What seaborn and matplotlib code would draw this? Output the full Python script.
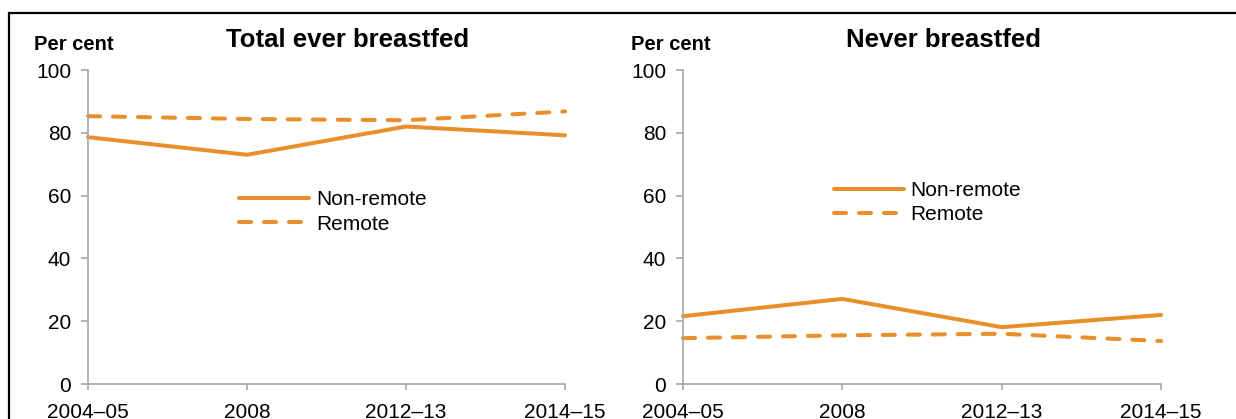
import pandas as pd
import seaborn as sns
import matplotlib.pyplot as plt
from matplotlib.patches import Rectangle

# -----------------------------
# Data
# -----------------------------
periods = ["2004–05", "2008", "2012–13", "2014–15"]
series_names = ["Non-remote", "Remote"]

ever_nonremote = [78.6, 73.0, 82.0, 79.2]
ever_remote = [85.3, 84.4, 84.0, 86.8]

never_nonremote = [21.6, 27.1, 18.1, 22.0]
never_remote = [14.6, 15.5, 16.0, 13.7]

panel_titles = ["Total ever breastfed", "Never breastfed"]
y_ticks = [0, 20, 40, 60, 80, 100]


def long_df(nonremote, remote):
    return pd.DataFrame({
        "Period": periods * 2,
        "Value": nonremote + remote,
        "Remoteness": [series_names[0]] * len(periods) + [series_names[1]] * len(periods),
    })


df_ever = long_df(ever_nonremote, ever_remote)
df_never = long_df(never_nonremote, never_remote)

# -----------------------------
# Plot
# -----------------------------
sns.set_theme(style="white")
plt.rcParams["font.family"] = ["Liberation Sans", "DejaVu Sans"]
plt.rcParams["text.color"] = "black"
plt.rcParams["lines.dash_capstyle"] = "round"
plt.rcParams["lines.solid_capstyle"] = "round"

orange = "#E88F2B"
axis_grey = "#A6A6A6"

fig = plt.figure(figsize=(12.36, 4.19), dpi=100)

# outer frame (runs off the right and bottom edge, as in the source)
fig.patches.append(Rectangle((9 / 1236, -0.2), 1.3, 1 - 13 / 419 + 0.2,
                             transform=fig.transFigure, fill=False,
                             edgecolor="black", linewidth=1.6))

ax1 = fig.add_axes([88 / 1236, 1 - 384 / 419, 477 / 1236, 314 / 419])
ax2 = fig.add_axes([683 / 1236, 1 - 384 / 419, 478 / 1236, 314 / 419])

legend_anchor = [(0.317, 0.548), (0.316, 0.577)]
title_x = [0.2808, 0.763]
percent_x = [34 / 1236, 631 / 1236]

for i, (ax, df) in enumerate([(ax1, df_ever), (ax2, df_never)]):
    sns.lineplot(
        data=df, x="Period", y="Value", style="Remoteness",
        dashes={"Non-remote": "", "Remote": (3.0, 3.2)},
        color=orange, linewidth=2.9, ax=ax,
    )
    for line in ax.get_lines():
        line.set_clip_on(False)

    ax.set_xlim(0, 3)
    ax.set_ylim(0, 100)
    ax.set_yticks(y_ticks)
    ax.set_xlabel("")
    ax.set_ylabel("")

    for side in ["top", "right"]:
        ax.spines[side].set_visible(False)
    for side in ["left", "bottom"]:
        ax.spines[side].set_color(axis_grey)
        ax.spines[side].set_linewidth(1.2)

    ax.tick_params(axis="y", left=True, length=5, width=1.2, color=axis_grey,
                   pad=7, labelsize=15, labelcolor="black")
    ax.tick_params(axis="x", bottom=True, length=4.5, width=1.2, color=axis_grey,
                   pad=9, labelsize=15, labelcolor="black")

    sns.move_legend(
        ax, "center left", bbox_to_anchor=legend_anchor[i], title=None,
        frameon=False, fontsize=15, handlelength=3.35, handletextpad=0.33,
        labelspacing=0.25, borderpad=0, borderaxespad=0,
    )
    for txt in ax.get_legend().get_texts():
        txt.set_color("black")

    fig.text(title_x[i], 1 - 47 / 419, panel_titles[i], ha="center",
             va="baseline", fontsize=18.5, fontweight="bold", color="black")
    fig.text(percent_x[i], 1 - 50 / 419, "Per cent", ha="left",
             va="baseline", fontsize=14.5, fontweight="bold", color="black")

fig.savefig("out.png", dpi=100)
